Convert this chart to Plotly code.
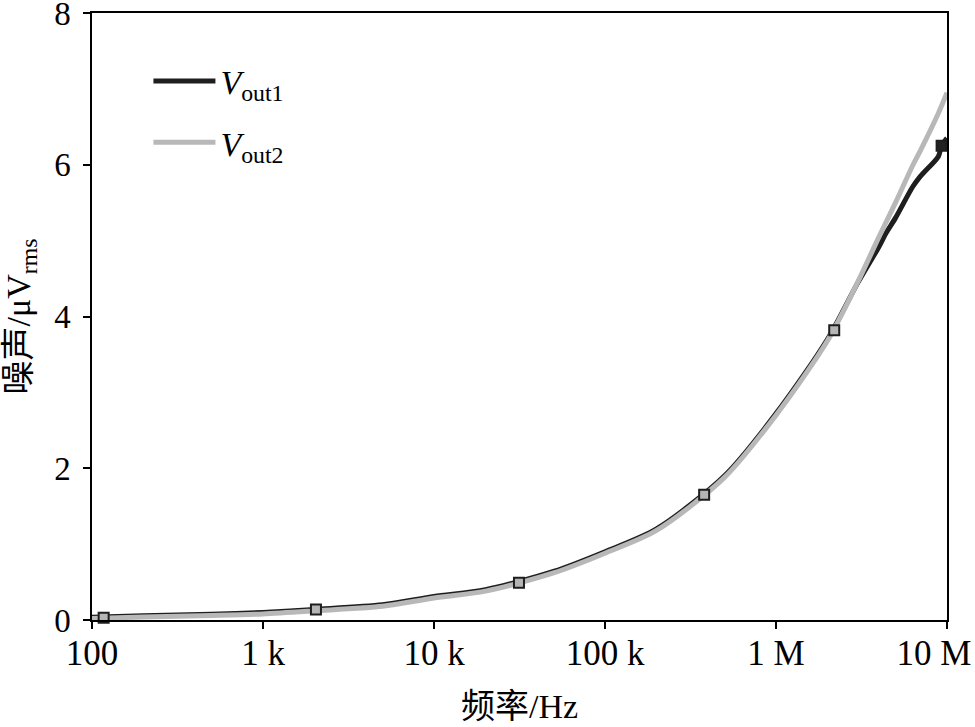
import plotly.graph_objects as go

# ---- data ----
freq_out2 = [100, 200, 500, 1e3, 2e3, 5e3, 1e4, 2e4, 5e4, 1e5, 2e5, 5e5, 1e6, 2e6,
             3e6, 4e6, 5e6, 6.3e6, 7e6, 8.9e6, 1e7]
v_out2 = [0.02, 0.04, 0.06, 0.08, 0.12, 0.18, 0.29, 0.38, 0.62, 0.88, 1.18, 1.88, 2.70, 3.68,
          4.45, 5.05, 5.50, 5.99, 6.19, 6.68, 6.95]

freq_out1 = [100, 200, 500, 1e3, 2e3, 5e3, 1e4, 2e4, 5e4, 1e5, 2e5, 5e5, 1e6, 2e6,
             3e6, 4e6, 4.4e6, 5e6, 6.3e6, 7e6, 8.9e6, 9.3e6, 1e7]
v_out1 = [0.035, 0.055, 0.075, 0.10, 0.14, 0.20, 0.31, 0.40, 0.64, 0.90, 1.20, 1.90, 2.72, 3.70,
          4.44, 4.92, 5.10, 5.30, 5.71, 5.85, 6.11, 6.25, 6.35]

marker_freq = [117, 2.04e3, 3.14e4, 3.8e5, 2.19e6, 9.3e6]
marker_v = [0.03, 0.14, 0.49, 1.65, 3.82, 6.25]
marker_fill = ["#b5b5b5", "#b5b5b5", "#b5b5b5", "#b5b5b5", "#b5b5b5", "#222222"]

x_tickvals = [1e2, 1e3, 1e4, 1e5, 1e6, 1e7]
x_ticktext = ["100", "1 k", "10 k", "100 k", "1 M", "10 M\u00a0\u00a0\u00a0"]
y_tickvals = [0, 2, 4, 6, 8]

FONT = "Liberation Serif, Times New Roman, Noto Sans CJK SC, serif"
BLACK = "#1e1e1e"
GRAY = "#b8b8b8"

fig = go.Figure()
fig.add_trace(go.Scatter(
    x=freq_out1, y=v_out1, mode="lines", name="<i>V</i><sub>out1</sub>",
    line=dict(color=BLACK, width=5, shape="spline", smoothing=0.8),
    legendgroup="a", cliponaxis=False))
fig.add_trace(go.Scatter(
    x=freq_out2, y=v_out2, mode="lines", name="<i>V</i><sub>out2</sub>",
    line=dict(color=GRAY, width=5, shape="spline", smoothing=0.8),
    legendgroup="b", cliponaxis=False))
fig.add_trace(go.Scatter(
    x=marker_freq, y=marker_v, mode="markers", showlegend=False,
    marker=dict(symbol="square", size=10, color=marker_fill,
                line=dict(color=BLACK, width=2)), cliponaxis=False))

fig.update_layout(
    width=975, height=727,
    margin=dict(l=92, r=28, t=13, b=107, autoexpand=False),
    paper_bgcolor="white", plot_bgcolor="white",
    font=dict(family=FONT, size=32, color="black"),
    legend=dict(x=0.066, y=0.935, xanchor="left", yanchor="top",
                bgcolor="rgba(0,0,0,0)", font=dict(size=34, family=FONT),
                tracegroupgap=14, itemwidth=62),
    xaxis=dict(type="log", range=[2, 7], tickvals=x_tickvals, ticktext=x_ticktext,
               showline=True, linecolor="black", linewidth=1.5, mirror=True,
               ticks="outside", ticklen=7, tickwidth=1.5, tickcolor="black",
               showgrid=False, zeroline=False, ticklabelstandoff=-6,
               ticklabeloverflow="allow", automargin=False,
               tickfont=dict(size=35, family=FONT),
               title=dict(text="频率/Hz", font=dict(size=34, family=FONT), standoff=22)),
    yaxis=dict(range=[0, 8], tickvals=y_tickvals,
               showline=True, linecolor="black", linewidth=1.5, mirror=True,
               ticks="outside", ticklen=7, tickwidth=1.5, tickcolor="black",
               showgrid=False, zeroline=False, ticklabelstandoff=6,
               ticklabeloverflow="allow", automargin=False,
               tickfont=dict(size=33, family=FONT),
               title=dict(text="噪声/μV<sub>rms</sub>", font=dict(size=34, family=FONT),
                          standoff=18)),
)

fig.write_html("out.html")
